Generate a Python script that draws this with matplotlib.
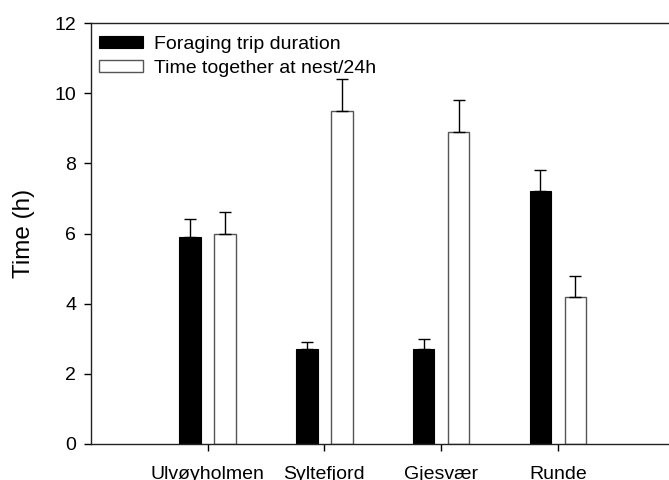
import numpy as np
import matplotlib
matplotlib.use("Agg")
import matplotlib.pyplot as plt

plt.rcParams["font.family"] = ["Liberation Sans", "DejaVu Sans"]

# data
sites = ["Ulvøyholmen", "Syltefjord", "Gjesvær", "Runde"]
foraging = [5.9, 2.7, 2.7, 7.2]
foraging_err = [0.5, 0.2, 0.3, 0.6]
together = [6.0, 9.5, 8.9, 4.2]
together_err = [0.6, 0.9, 0.9, 0.6]

fig = plt.figure(figsize=(6.69, 4.8), dpi=100)
ax = fig.add_axes([0.1356, 0.075, 0.873, 0.877])

x = np.arange(len(sites))
width = 0.185
off = 0.15

ax.bar(x - off, foraging, width, color="black", edgecolor="black", linewidth=0.8,
       yerr=[np.zeros(len(sites)), foraging_err], capsize=4.3,
       error_kw=dict(ecolor="black", elinewidth=1, capthick=1),
       label="Foraging trip duration", zorder=2)
ax.bar(x + off, together, width, color="white", edgecolor="#555555", linewidth=1,
       yerr=[np.zeros(len(sites)), together_err], capsize=4.3,
       error_kw=dict(ecolor="black", elinewidth=1, capthick=1),
       label="Time together at nest/24h", zorder=2)

ax.set_xlim(-1, 4)
ax.set_ylim(0, 12)
ax.set_xticks(x)
ax.set_xticklabels(sites, fontsize=14)
ax.set_yticks(range(0, 13, 2))
ax.tick_params(axis="y", labelsize=14, direction="out", length=5, pad=5.5, width=1)
ax.tick_params(axis="x", direction="out", length=5, pad=11, width=1)
ax.set_ylabel("Time (h)", fontsize=17.5, labelpad=14)

for s in ["left", "bottom", "top", "right"]:
    ax.spines[s].set_linewidth(1)
    ax.spines[s].set_color("#222222")

ax.legend(loc="upper left", bbox_to_anchor=(0.0142, 0.97), frameon=False,
          fontsize=14, handlelength=2.26, handleheight=0.62, handletextpad=0.57,
          labelspacing=0.36, borderaxespad=0, borderpad=0)

plt.savefig("out.png", dpi=100)
plt.close(fig)
